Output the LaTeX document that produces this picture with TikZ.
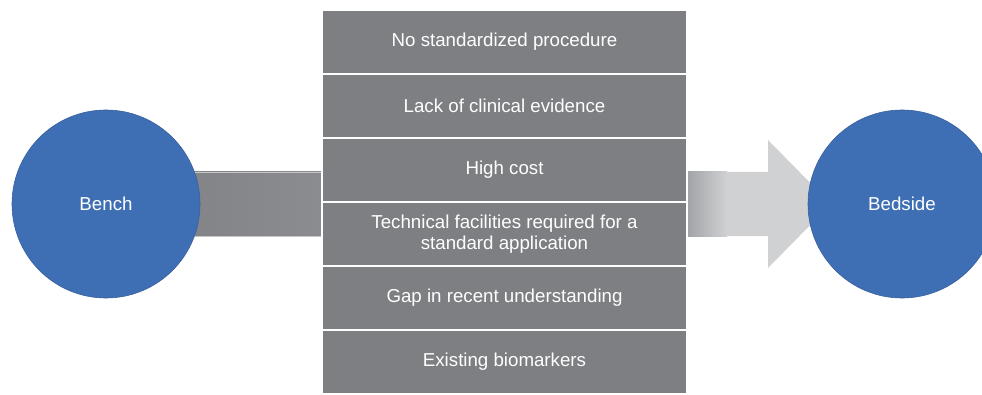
\documentclass[tikz,border=0pt]{standalone}
\usepackage{fontspec}
\setmainfont{Liberation Sans}
\usetikzlibrary{positioning,calc,backgrounds}
\definecolor{rowgray}{HTML}{7E7F83}
\definecolor{barlight}{HTML}{8B8C90}
\definecolor{arrowlight}{HTML}{D0D1D3}
\definecolor{arrowdark}{HTML}{A2A3A6}
\definecolor{dotblue}{HTML}{3E6EB4}
\definecolor{dotedge}{HTML}{3A5F9E}

\tikzset{
  barrier/.style={rectangle,fill=rowgray,draw=white,line width=1.2pt,
    minimum width=365pt,minimum height=64pt,inner sep=0pt,outer sep=0pt,
    text=white,align=center,font=\fontsize{18.7}{21}\selectfont},
  stage/.style={circle,fill=dotblue,draw=dotedge,line width=0.6pt,
    minimum size=188pt,inner sep=0pt,text=white,
    font=\fontsize{18.7}{21}\selectfont}
}

\begin{document}
\begin{tikzpicture}[x=1pt,y=1pt]
    \clip (0,0) rectangle (982,394);
    % list of barriers
    \node[barrier] (b1) at (504.5,352) {No standardized procedure};
    \node[barrier,below=0pt of b1] (b2) {Lack of clinical evidence};
    \node[barrier,below=0pt of b2] (b3) {High cost};
    \node[barrier,below=0pt of b3] (b4) {Technical facilities required for a\\standard application};
    \node[barrier,below=0pt of b4] (b5) {Gap in recent understanding};
    \node[barrier,below=0pt of b5] (b6) {Existing biomarkers};
    % the two ends
    \node[stage] (bench) at (106,190) {Bench};
    \node[stage] (bedside) at (902,190) {Bedside};
    \coordinate (in) at (b4.west |- bench.center);
    \coordinate (out) at (b4.east |- bench.center);
    \begin{pgfonlayer}{background}
      % shaft into the barriers
      \shade[left color=rowgray,right color=barlight,draw=gray!45,line width=0.5pt]
        ($(bench.center)+(0,32)$) rectangle ($(in)+(0,-32)$);
      % arrow out to the bedside
      \fill[arrowlight] ($(out)+(0,32)$) -- (768,222) -- (768,254)
        -- (831,190) -- (768,126) -- (768,158) -- ($(out)+(0,-32)$) -- cycle;
      \shade[left color=arrowdark,right color=arrowlight]
        ($(out)+(0,-32)$) rectangle ($(out)+(40,32)$);
    \end{pgfonlayer}
\end{tikzpicture}
\end{document}
